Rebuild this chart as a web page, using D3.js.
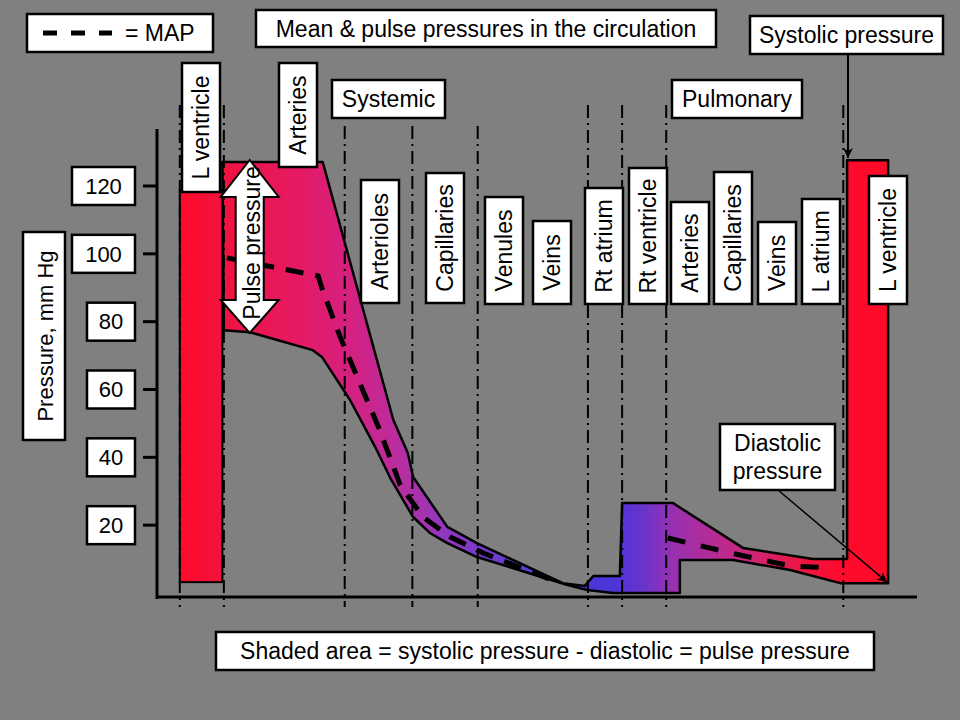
<!DOCTYPE html>
<html><head><meta charset="utf-8">
<script src="https://cdn.jsdelivr.net/npm/d3@7"></script>
<style>
html,body{margin:0;padding:0;background:#808080;}
svg{display:block;}
text{font-family:"Liberation Sans",Arial,sans-serif;fill:#000;}
</style></head>
<body>
<svg id="chart" width="960" height="720"></svg>
<script>
// ---------------- DATA ----------------
// x = position along the circulation (0..100), p = pressure in mm Hg
const yTicks = [20, 40, 60, 80, 100, 120];
const boundaries = [3.0, 8.8, 24.7, 33.6, 42.2, 56.7, 61.2, 67.0, 90.3];
const boundaryTall = [true, true, false, false, false, true, true, true, true];
const compartments = ["L ventricle","Arteries","Arterioles","Capillaries","Venules","Veins",
                      "Rt atrium","Rt ventricle","Arteries","Capillaries","Veins","L atrium","L ventricle"];
// left ventricle bar (systole top / diastole bottom)
const lvBarX = [3.0, 8.6];
const lvBarP = [118.8, 3.2];
// systolic (upper) boundary of shaded region
const systolicX = [8.6, 21.8, 31.1, 33.0, 33.7, 38.2, 42.1, 53.4, 56.3, 57.4, 60.9, 61.2, 67.9, 77.1, 86.3, 90.8, 90.8, 96.2, 96.2];
const systolicP = [127.1,127.1, 51.0, 41.3, 34.2, 19.5, 14.7, 2.9, 2.1, 5.0, 5.0, 26.5, 26.5, 13.3, 10.0, 10.0, 127.6,127.6, 2.9];
// diastolic (lower) boundary of shaded region
const diastolicX = [8.8, 12.2, 20.5, 21.7, 25.4, 28.7, 30.7, 33.7, 35.9, 38.2, 42.1, 53.9, 56.6, 60.0, 68.8, 68.8, 75.8, 83.3, 89.9, 96.2];
const diastolicP = [77.5, 76.9, 71.6, 69.6, 56.9, 43.1, 33.9, 22.4, 17.7, 14.7, 10.6, 2.4, 0.9, 0.0, 0.0, 9.7, 9.7, 6.8, 2.9, 2.9];
// mean arterial pressure
const mapSysX = [9.2, 21.2, 21.7, 24.1, 29.3, 32.0, 35.0, 38.6, 42.9, 53.0];
const mapSysP = [98.8, 93.5, 89.9, 75.5, 48.1, 31.8, 22.4, 16.5, 11.8, 2.9];
const mapPulX = [67.2, 76.7, 83.3, 88.6];
const mapPulP = [16.2, 11.2, 8.0, 7.4];

// ---------------- LAYOUT ----------------
const svg = d3.select("#chart");
const x = d3.scaleLinear().domain([0, 100]).range([157, 917]);
const y = d3.scaleLinear().domain([0, 120]).range([593, 186]);
const FONT = 23;

const zip = (xs, ps) => xs.map((v, i) => [x(v), y(ps[i])]);

// gradient
const defs = svg.append("defs");
const grad = defs.append("linearGradient").attr("id","g").attr("gradientUnits","userSpaceOnUse")
  .attr("x1", x(3)).attr("x2", x(96.2)).attr("y1",0).attr("y2",0);
const stops = [[3,"#ff0a28"],[8,"#f2123c"],[19,"#e41a66"],[25,"#d6207e"],[32,"#b82ea0"],[38,"#9038c0"],
               [45,"#6a3ccc"],[53,"#4f3ad8"],[60,"#4a34d8"],[64,"#6a34cc"],[68,"#9a30b0"],[77,"#c82880"],
               [84,"#e81848"],[90,"#ff0a2c"],[96.2,"#ff0a28"]];
stops.forEach(([v,c]) => grad.append("stop").attr("offset", (x(v)-x(3))/(x(96.2)-x(3))).attr("stop-color", c));

defs.append("marker").attr("id","arr").attr("viewBox","0 0 10 10").attr("refX",10).attr("refY",5)
  .attr("markerWidth",6).attr("markerHeight",6).attr("markerUnits","userSpaceOnUse").attr("orient","auto")
  .append("path").attr("d","M0,0 L10,5 L0,10 z").attr("fill","#000");
defs.append("marker").attr("id","arr2").attr("viewBox","0 0 10 10").attr("refX",10).attr("refY",5)
  .attr("markerWidth",12).attr("markerHeight",10).attr("markerUnits","userSpaceOnUse").attr("orient","auto")
  .append("path").attr("d","M0,0 L10,5 L0,10 L3,5 z").attr("fill","#000");

// shaded band
const poly = zip(systolicX, systolicP).concat(zip(diastolicX, diastolicP).reverse());
svg.append("path").attr("d", d3.line().curve(d3.curveLinearClosed)(poly))
  .attr("fill","url(#g)").attr("stroke","#000").attr("stroke-width",2.5).attr("stroke-linejoin","round");

// left ventricle bar
svg.append("rect").attr("x", x(lvBarX[0])).attr("y", y(lvBarP[0]))
  .attr("width", x(lvBarX[1]) - x(lvBarX[0])).attr("height", y(lvBarP[1]) - y(lvBarP[0]))
  .attr("fill","url(#g)").attr("stroke","#000").attr("stroke-width",2);

// dash-dot boundaries
svg.append("g").selectAll("line").data(boundaries).join("line")
  .attr("x1", d => x(d)).attr("x2", d => x(d))
  .attr("y1", (d,i) => boundaryTall[i] ? 105 : 126).attr("y2", 607)
  .attr("stroke","#000").attr("stroke-width",2).attr("stroke-dasharray","13,5,2,5");

// MAP lines
const ln = d3.line();
svg.append("path").attr("d", ln(zip(mapSysX, mapSysP))).attr("fill","none")
  .attr("stroke","#000").attr("stroke-width",5).attr("stroke-dasharray","18,12");
svg.append("path").attr("d", ln(zip(mapPulX, mapPulP))).attr("fill","none")
  .attr("stroke","#000").attr("stroke-width",5).attr("stroke-dasharray","18,16");

// axes
svg.append("line").attr("x1",157).attr("x2",157).attr("y1",129).attr("y2",599).attr("stroke","#000").attr("stroke-width",3);
svg.append("line").attr("x1",156).attr("x2",917).attr("y1",597).attr("y2",597).attr("stroke","#000").attr("stroke-width",3);
svg.append("g").selectAll("line").data(yTicks).join("line")
  .attr("x1",143).attr("x2",157).attr("y1", d => y(d)).attr("y2", d => y(d))
  .attr("stroke","#000").attr("stroke-width",3);

// helpers
function box(x0, y0, w, h) {
  return svg.append("rect").attr("x",x0).attr("y",y0).attr("width",w).attr("height",h)
    .attr("fill","#fff").attr("stroke","#000").attr("stroke-width",2.5);
}
function txt(cx, cy, s, size, rot) {
  return svg.append("text").attr("transform", `translate(${cx},${cy})` + (rot ? " rotate(-90)" : ""))
    .attr("text-anchor","middle").attr("dy","0.35em").attr("font-size", size || FONT).text(s);
}

// tick label boxes
yTicks.forEach(t => {
  const s = String(t);
  const w = s.length === 3 ? 63 : 48;
  box(135 - w, y(t) - 19, w, 38);
  txt(135 - w/2, y(t), s, 22);
});
// y title
box(23, 232, 42, 208);
txt(45, 336, "Pressure, mm Hg", 22, true);

// compartment label boxes (layout)
const labelBoxes = [[182,63,192],[279,63,167],[361,180,303],[426,173,303],[485,197,304],[533,221,304],
                    [585,188,304],[629,168,304],[671,202,304],[714,172,304],[758,222,304],[802,199,304],[869,176,304]];
compartments.forEach((c, i) => {
  const [bx, top, bot] = labelBoxes[i];
  box(bx, top, 38, bot - top);
  txt(bx + 19, (top + bot)/2, c, FONT, true);
});

// pulse pressure double arrow
const ax = x(12.2);
const arrowPts = [[ax,160],[ax+29,197],[ax+14,197],[ax+14,300],[ax+29,300],[ax,333],[ax-29,300],[ax-14,300],[ax-14,197],[ax-29,197]];
svg.append("path").attr("d", d3.line().curve(d3.curveLinearClosed)(arrowPts))
  .attr("fill","#fff").attr("stroke","#000").attr("stroke-width",2);
txt(ax + 2, 243, "Pulse pressure", FONT, true);

// legend
box(27, 14, 186, 38);
svg.append("line").attr("x1",43).attr("x2",112).attr("y1",33).attr("y2",33)
  .attr("stroke","#000").attr("stroke-width",5).attr("stroke-dasharray","14,14");
svg.append("text").attr("x",125).attr("y",33).attr("dy","0.35em").attr("font-size",FONT).text("= MAP");

// title
box(256, 10, 460, 37);
txt(486, 29, "Mean & pulse pressures in the circulation", FONT);

// systemic / pulmonary
box(332, 80, 113, 38); txt(388.5, 99, "Systemic", FONT);
box(672, 80, 130, 38); txt(737, 99, "Pulmonary", FONT);

// systolic pressure callout
box(750, 16, 193, 38); txt(846.5, 35, "Systolic pressure", FONT);
svg.append("line").attr("x1",848).attr("x2",848).attr("y1",54).attr("y2",158)
  .attr("stroke","#000").attr("stroke-width",2).attr("marker-end","url(#arr2)");

// diastolic pressure callout
svg.append("line").attr("x1",778).attr("y1",490).attr("x2",x(96.2)-1).attr("y2",y(2.9)-1)
  .attr("stroke","#000").attr("stroke-width",1.5).attr("marker-end","url(#arr2)");
box(720, 424, 115, 66);
txt(777.5, 443, "Diastolic", FONT);
txt(777.5, 471, "pressure", FONT);

// bottom note
box(216, 632, 658, 38);
txt(545, 651, "Shaded area = systolic pressure - diastolic = pulse pressure", FONT);
</script>
</body></html>
